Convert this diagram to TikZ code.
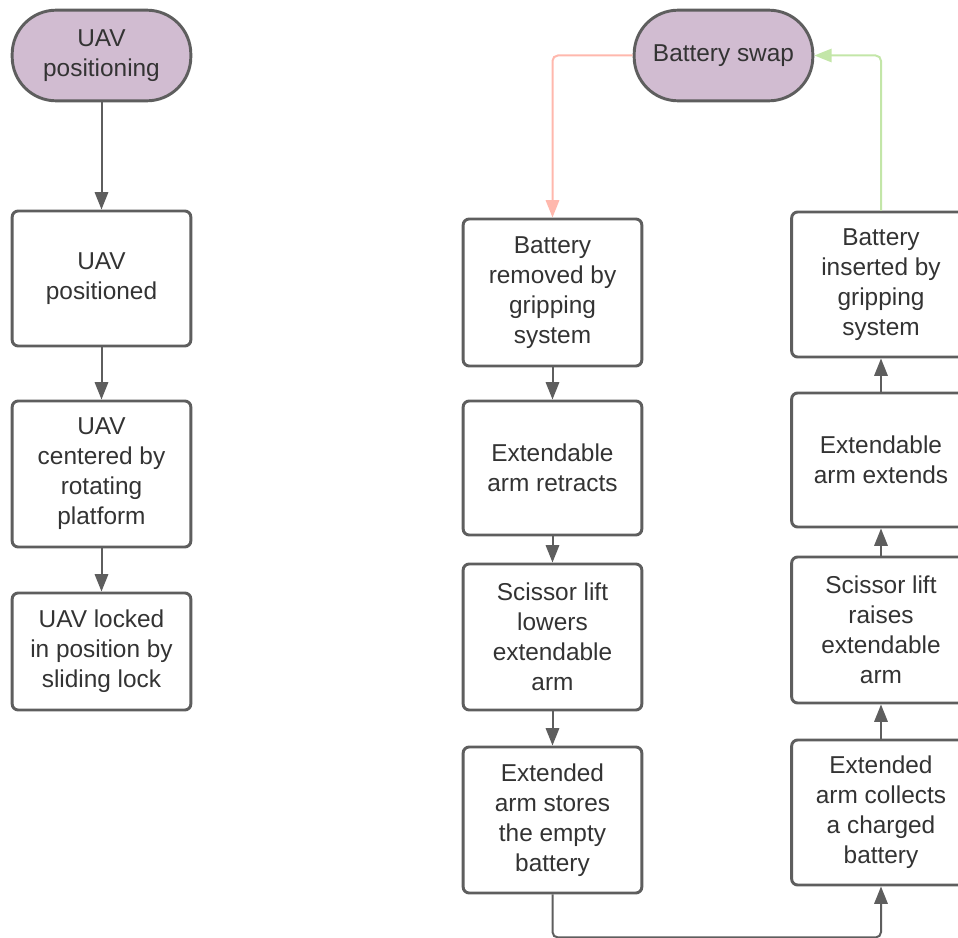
\documentclass[tikz,border=0pt]{standalone}
\usepackage{fontspec}
\setmainfont{Liberation Sans}
\usetikzlibrary{arrows.meta}
\definecolor{lilac}{HTML}{D1BCD1}
\definecolor{edgegray}{HTML}{5E5E5E}
\definecolor{salmon}{HTML}{FFB8AD}
\definecolor{mint}{HTML}{C3E6A8}
\definecolor{ink}{HTML}{333333}

\begin{document}
\begin{tikzpicture}[x=0.75pt,y=-0.75pt,
	stage/.style={draw=edgegray, line width=2.2pt, rounded corners=4.5pt, fill=white, text=ink,
		minimum width=134pt, align=center, font=\fontsize{18.3}{22.5}\selectfont},
	term/.style={stage, fill=lilac, rounded corners=33pt, minimum height=68pt},
	flow/.style={draw=edgegray, line width=1.5pt, rounded corners=4pt,
		-{Triangle[length=13pt,width=10pt]}},
	flowred/.style={flow, draw=salmon, -{Triangle[length=13pt,width=10pt,color=salmon]}},
	flowgreen/.style={flow, draw=mint, -{Triangle[length=13pt,width=10pt,color=mint]}}]
	\useasboundingbox (0,0) rectangle (958,938);

	% docking
	\node[term] (1) at (101.5,55.5) {UAV\\positioning};
	\node[stage, minimum height=101.25pt] (2) at (101.5,278.5) {UAV\\positioned};
	\node[stage, minimum height=109.5pt] (3) at (101.5,474) {UAV\\centered by\\rotating\\platform};
	\node[stage, minimum height=87.75pt] (4) at (101.5,651.5) {UAV locked\\in position by\\sliding lock};

	% removal
	\node[term] (5) at (723.5,55.5) {Battery swap};
	\node[stage, minimum height=110.25pt] (6) at (552.5,292.5) {Battery\\removed by\\gripping\\system};
	\node[stage, minimum height=100.5pt] (7) at (552.5,468) {Extendable\\arm retracts};
	\node[stage, minimum height=109.5pt] (8) at (552.5,637) {Scissor lift\\lowers\\extendable\\arm};
	\node[stage, minimum height=109.5pt] (9) at (552.5,820) {Extended\\arm stores\\the empty\\battery};

	% insertion
	\node[stage, minimum height=108.75pt] (10) at (881,284.5) {Battery\\inserted by\\gripping\\system};
	\node[stage, minimum height=100.5pt] (11) at (881,460) {Extendable\\arm extends};
	\node[stage, minimum height=109.5pt] (12) at (881,630) {Scissor lift\\raises\\extendable\\arm};
	\node[stage, minimum height=108.75pt] (13) at (881,812.5) {Extended\\arm collects\\a charged\\battery};

	\draw[flow] (1) -- (2);
	\draw[flow] (2) -- (3);
	\draw[flow] (3) -- (4);

	\draw[flowred] (5.west) -| (6.north);
	\draw[flow] (6) -- (7);
	\draw[flow] (7) -- (8);
	\draw[flow] (8) -- (9);
	\draw[flow] (9.south) -- ++(0,43) -| (13.south);
	\draw[flow] (13) -- (12);
	\draw[flow] (12) -- (11);
	\draw[flow] (11) -- (10);
	\draw[flowgreen] (10.north) |- (5.east);
\end{tikzpicture}
\end{document}
